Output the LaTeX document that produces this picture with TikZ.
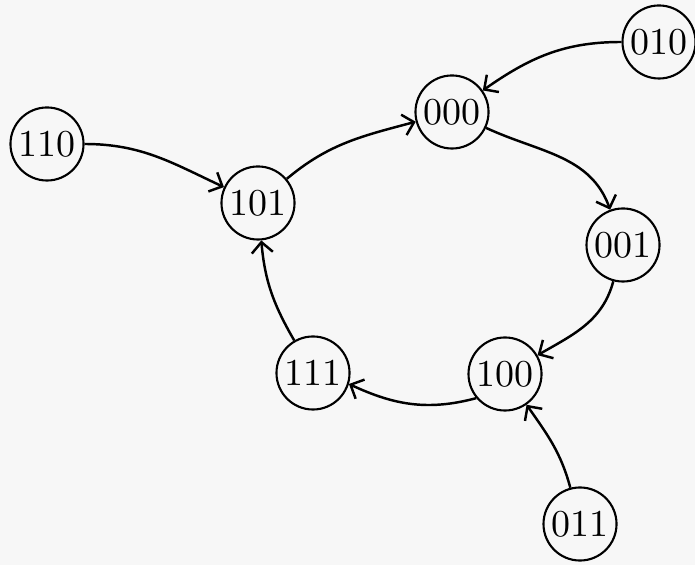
\documentclass[tikz,border=0pt]{standalone}
\usepackage{amssymb}
\usepackage{amsmath}
\usepackage{tikz}
\usetikzlibrary{arrows.meta}

\begin{document}
\begin{tikzpicture}[%
      x=0.01cm, y=-0.01cm,
      state/.style={draw, circle, line width=0.6pt, minimum size=0.73cm,
        inner sep=0pt, font=\fontsize{10.8}{13}\selectfont},
      trans/.style={line width=0.7pt, -{Straight Barb[length=3pt,width=6pt]}}]

      \fill[black!3] (0,0) rectangle (695,565);
      \useasboundingbox (0,0) rectangle (695,565);

      \node[state] (s010) at (659,42)  {010};
      \node[state] (s000) at (452,112) {000};
      \node[state] (s110) at (47,144)  {110};
      \node[state] (s101) at (258,203) {101};
      \node[state] (s001) at (623,245) {001};
      \node[state] (s111) at (313,373) {111};
      \node[state] (s100) at (505,374) {100};
      \node[state] (s011) at (580,524) {011};

      \draw[trans] (s010) to[out=180, in=35]  (s000);
      \draw[trans] (s000) to[out=-25, in=110] (s001);
      \draw[trans] (s001) to[out=-105, in=30] (s100);
      \draw[trans] (s100.220) to[out=195, in=-25] (s111.-17);
      \draw[trans] (s011) to[out=105, in=-55] (s100);
      \draw[trans] (s111) to[out=120, in=-85] (s101);
      \draw[trans] (s101) to[out=40, in=195]  (s000);
      \draw[trans] (s110) to[out=0, in=155]   (s101);

    \end{tikzpicture}
\end{document}
